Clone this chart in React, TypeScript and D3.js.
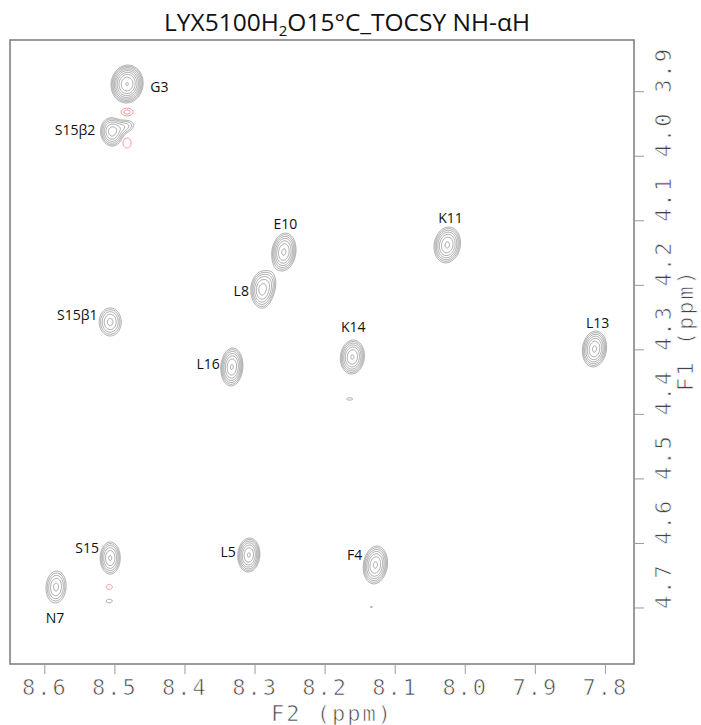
import React, { useMemo } from 'react';
import * as d3 from 'd3';

// Spectrum window (ppm)
const F2_DOMAIN: [number, number] = [8.6497, 7.7592];
const F1_DOMAIN: [number, number] = [3.8199, 4.7868];

const F2_TICKS = [8.6, 8.5, 8.4, 8.3, 8.2, 8.1, 8.0, 7.9, 7.8];
const F1_TICKS = [3.9, 4.0, 4.1, 4.2, 4.3, 4.4, 4.5, 4.6, 4.7];

// Cross peaks: [F2 ppm, F1 ppm, half-width F2 (ppm), half-width F1 (ppm), intensity, tilt deg]
const POSITIVE_PEAKS: [number, number, number, number, number, number][] = [
  [8.4826, 3.8881, 0.0228, 0.0294, 15, 8], // G3
  [8.5046, 3.9624, 0.0157, 0.022, 6, -5], // S15 beta2
  [8.4874, 3.9545, 0.0143, 0.0093, 2.4, -15], // S15 beta2 shoulder
  [8.2589, 4.1484, 0.0171, 0.0294, 8, 8], // E10
  [8.2903, 4.2075, 0.0157, 0.0279, 6, 0], // L8
  [8.2795, 4.1955, 0.0072, 0.0124, 1.7, 0], // L8 shoulder
  [8.0257, 4.1375, 0.0186, 0.0279, 8, 10], // K11
  [8.5067, 4.2568, 0.0157, 0.0217, 4.2, 0], // S15 beta1
  [7.8156, 4.2987, 0.0171, 0.0279, 8, 8], // L13
  [8.1611, 4.3111, 0.0171, 0.0263, 7.8, 6], // K14
  [8.3331, 4.3266, 0.0157, 0.0294, 7.8, 4], // L16
  [8.165, 4.3761, 0.0043, 0.0018, 1.15, 0],
  [8.5067, 4.6226, 0.0143, 0.0248, 5.6, 0], // S15
  [8.3089, 4.6179, 0.0157, 0.0263, 7.8, 4], // L5
  [8.1283, 4.6334, 0.0171, 0.0294, 8, 8], // F4
  [8.584, 4.6675, 0.0143, 0.0248, 4.2, 4], // N7
  [8.5081, 4.6892, 0.0043, 0.0028, 1.2, 0],
  [8.134, 4.6985, 0.0015, 0.001, 1.1, 0],
];

const NEGATIVE_PEAKS: [number, number, number, number, number, number][] = [
  [8.4826, 3.9315, 0.0086, 0.006, 1.6, 0],
  [8.4826, 3.9795, 0.0057, 0.0077, 1.2, 0],
  [8.5081, 4.6675, 0.0043, 0.0038, 1.2, 0],
];

// Assignments: [label, F2 ppm, F1 ppm]
const ASSIGNMENTS: [string, number, number][] = [
  ['G3', 8.4366, 3.8927],
  ['S15β2', 8.5569, 3.9593],
  ['E10', 8.2568, 4.105],
  ['L8', 8.3197, 4.2076],
  ['K11', 8.0211, 4.0957],
  ['S15β1', 8.5538, 4.246],
  ['L13', 7.8111, 4.2584],
  ['K14', 8.1597, 4.2646],
  ['L16', 8.3669, 4.3219],
  ['S15', 8.5397, 4.607],
  ['L5', 8.3383, 4.6132],
  ['F4', 8.158, 4.6179],
  ['N7', 8.5854, 4.7141],
];

const CONTOUR_BASE = 1;
const CONTOUR_FACTOR = 1.4;
const CONTOUR_LEVELS = 12;

const WIDTH = 701;
const HEIGHT = 725;
const LEFT = 10;
const TOP = 40;
const RIGHT = 634;
const BOTTOM = 664;
const OVERSAMPLE = 2;

const TICK_FONT = '"DejaVu Sans Mono", "Liberation Mono", monospace';
const LABEL_FONT = '"Open Sans", "Noto Sans", sans-serif';

export default function App() {
  const x = d3.scaleLinear().domain(F2_DOMAIN).range([LEFT, RIGHT]);
  const y = d3.scaleLinear().domain(F1_DOMAIN).range([TOP, BOTTOM]);

  const gw = (RIGHT - LEFT) * OVERSAMPLE;
  const gh = (BOTTOM - TOP) * OVERSAMPLE;

  const buildGrid = (peaks: typeof POSITIVE_PEAKS) => {
    const grid = new Float64Array(gw * gh);
    for (const [px, py, hx, hy, amp, tilt] of peaks) {
      const cx = x(px) - LEFT;
      const cy = y(py) - TOP;
      const hxPx = Math.abs(x(px + hx) - x(px));
      const hyPx = Math.abs(y(py + hy) - y(py));
      const s = Math.sqrt(2 * Math.log(amp / CONTOUR_BASE));
      const sx = hxPx / s;
      const sy = hyPx / s;
      const phi = (tilt * Math.PI) / 180;
      const c = Math.cos(phi);
      const sn = Math.sin(phi);
      const reach = 5 * Math.max(sx, sy);
      const i0 = Math.max(0, Math.floor((cx - reach) * OVERSAMPLE));
      const i1 = Math.min(gw - 1, Math.ceil((cx + reach) * OVERSAMPLE));
      const j0 = Math.max(0, Math.floor((cy - reach) * OVERSAMPLE));
      const j1 = Math.min(gh - 1, Math.ceil((cy + reach) * OVERSAMPLE));
      for (let j = j0; j <= j1; j++) {
        const dy = (j + 0.5) / OVERSAMPLE - cy;
        for (let i = i0; i <= i1; i++) {
          const dx = (i + 0.5) / OVERSAMPLE - cx;
          const u = dx * c + dy * sn;
          const v = dx * sn - dy * c;
          grid[j * gw + i] += amp * Math.exp(-(u * u) / (2 * sx * sx) - (v * v) / (2 * sy * sy));
        }
      }
    }
    return grid;
  };

  const { posPaths, negPaths } = useMemo(() => {
    const thresholds = d3.range(CONTOUR_LEVELS).map((k) => CONTOUR_BASE * Math.pow(CONTOUR_FACTOR, k));
    const gen = d3.contours().size([gw, gh]).thresholds(thresholds);
    const path = d3.geoPath(d3.geoIdentity().scale(1 / OVERSAMPLE) as any);
    const pos = gen(Array.from(buildGrid(POSITIVE_PEAKS))).map((g) => path(g as any) || '');
    const neg = gen(Array.from(buildGrid(NEGATIVE_PEAKS))).map((g) => path(g as any) || '');
    return { posPaths: pos, negPaths: neg };
  }, []);

  return (
    <svg width={WIDTH} height={HEIGHT} style={{ position: 'absolute', left: 0, top: 0, background: '#fff' }}>
      <text x={347} y={31} textAnchor="middle" fontFamily={LABEL_FONT} fontSize={24.5} fill="#111">
        LYX5100H<tspan fontSize={15} dy={5}>2</tspan>
        <tspan dy={-5}>O15°C_TOCSY NH-αH</tspan>
      </text>

      <g transform={`translate(${LEFT},${TOP})`} fill="none">
        {posPaths.map((d, i) => (
          <path key={`p${i}`} d={d} stroke="#555" strokeWidth={0.5} />
        ))}
        {negPaths.map((d, i) => (
          <path key={`n${i}`} d={d} stroke="#f06a6a" strokeWidth={0.7} />
        ))}
      </g>

      {ASSIGNMENTS.map(([name, px, py]) => (
        <text key={name} x={x(px)} y={y(py)} textAnchor="middle" dominantBaseline="central"
          fontFamily={LABEL_FONT} fontSize={14} fill="#111">
          {name}
        </text>
      ))}

      <rect x={LEFT} y={TOP} width={RIGHT - LEFT} height={BOTTOM - TOP} fill="none" stroke="#7a7a7a" strokeWidth={1.5} />

      {F2_TICKS.map((t) => (
        <g key={`x${t}`}>
          <line x1={x(t)} x2={x(t)} y1={BOTTOM} y2={BOTTOM + 10} stroke="#9a9a9a" strokeWidth={1} />
          <text x={x(t)} y={687} textAnchor="middle" dominantBaseline="central" fontFamily={TICK_FONT}
            fontSize={22} letterSpacing={2} fill="#444" stroke="#fff" strokeWidth={0.7}>
            {t.toFixed(1)}
          </text>
        </g>
      ))}
      <text x={332} y={713} textAnchor="middle" dominantBaseline="central" fontFamily={TICK_FONT}
        fontSize={22} letterSpacing={2} fill="#444" stroke="#fff" strokeWidth={0.7}>
        F2 (ppm)
      </text>

      {F1_TICKS.map((t) => (
        <g key={`y${t}`}>
          <line x1={RIGHT} x2={RIGHT + 10} y1={y(t)} y2={y(t)} stroke="#9a9a9a" strokeWidth={1} />
          <text transform={`translate(663,${y(t) + 1}) rotate(-90)`} textAnchor="start" dominantBaseline="central"
            fontFamily={TICK_FONT} fontSize={22} letterSpacing={2} fill="#444" stroke="#fff" strokeWidth={0.7}>
            {t.toFixed(1)}
          </text>
        </g>
      ))}
      <text transform="translate(685,330) rotate(-90)" textAnchor="middle" dominantBaseline="central"
        fontFamily={TICK_FONT} fontSize={22} letterSpacing={2} fill="#444" stroke="#fff" strokeWidth={0.7}>
        F1 (ppm)
      </text>
    </svg>
  );
}
